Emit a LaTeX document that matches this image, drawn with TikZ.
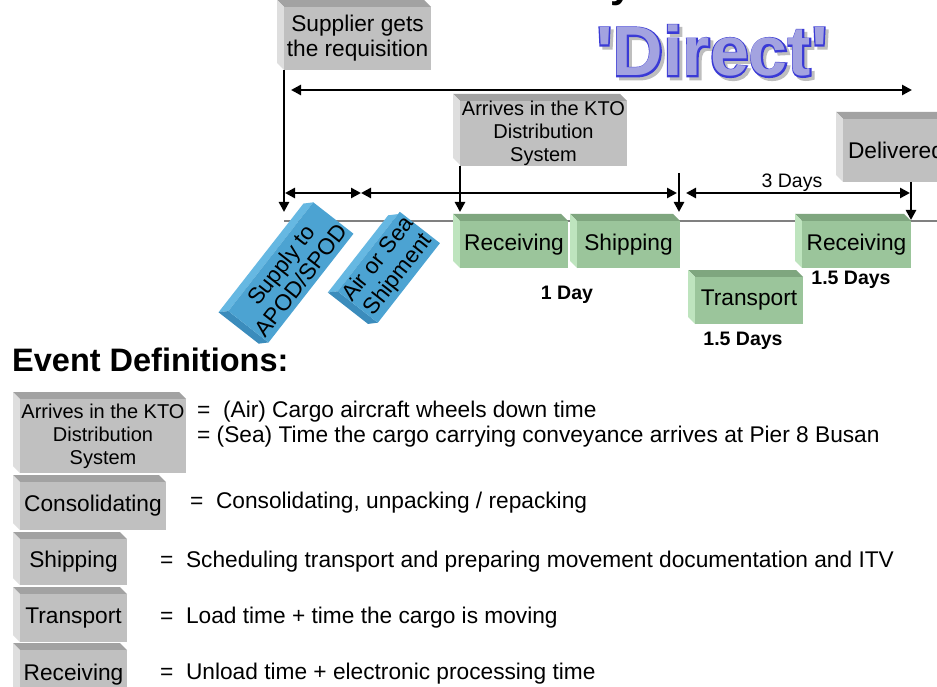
\documentclass[tikz,border=0pt]{standalone}
\usepackage{fontspec}
\setmainfont{Liberation Sans}
\newfontfamily\titlefat{Liberation Sans Bold}[FakeBold=4]
\newfontfamily\titleplain{Liberation Sans Bold}
\usetikzlibrary{arrows.meta}
\definecolor{gfront}{HTML}{C0C0C0}
\definecolor{gtop}{HTML}{A2A2A2}
\definecolor{gleft}{HTML}{DEDEDE}
\definecolor{nfront}{HTML}{9BC59B}
\definecolor{ntop}{HTML}{7FA67F}
\definecolor{nleft}{HTML}{BEE4BE}
\definecolor{bfront}{HTML}{4CA3D2}
\definecolor{btop}{HTML}{66B8E2}
\definecolor{bleft}{HTML}{3B8CBC}
\definecolor{tfill}{HTML}{A3A3E0}
\definecolor{tline}{HTML}{3A3AD6}
\definecolor{tshadow}{HTML}{BEBEBE}
\definecolor{tlgray}{HTML}{808080}
\newcommand\fA{\fontsize{22.7}{25}\selectfont}
\newcommand\fB{\fontsize{20}{23}\selectfont}
\newcommand\fC{\fontsize{19.5}{22}\selectfont}
% #1 name, #2 x1, #3 y1, #4 x2, #5 y2, #6 colour prefix, #7 font, #8 text
\newcommand\bbox[8]{%
  \fill[#6top] (#2,#3) -- ({(#4)-7},#3) -- (#4,{(#3)+7}) -- ({(#2)+7},{(#3)+7}) -- cycle;
  \fill[#6left] (#2,#3) -- ({(#2)+7},{(#3)+7}) -- ({(#2)+7},#5) -- (#2,{(#5)-7}) -- cycle;
  \node[face, fill=#6front, font=#7, minimum width={(#4)-(#2)-7}, minimum height={(#5)-(#3)-7}, anchor=north west] (#1) at ({(#2)+7},{(#3)+7}) {#8};
}
\begin{document}
\begin{tikzpicture}[x=1pt,y=-1pt,
  >={Triangle[length=10pt,width=10pt]},
  face/.style={inner sep=0pt,outer sep=0pt,align=center},
  arr/.style={line width=2.5pt,->},
  darr/.style={line width=2.5pt,<->},
  timeline/.style={draw=tlgray,line width=1.5pt},
  lbl/.style={inner sep=0pt,font=\fC\bfseries},
  deftxt/.style={inner sep=0pt,anchor=base west,font=\fA},
  titletxt/.style={inner sep=0pt,anchor=base},
]
\useasboundingbox (0,0) rectangle (937,687);
\clip (0,0) rectangle (937,687);
\fill[white] (0,0) rectangle (937,687);

% cut-off title glyph
\node[inner sep=0pt,anchor=base west,font=\bfseries\fontsize{40}{40}\selectfont] (ytail) at (610,-2) {y};

% title
\node[titletxt,text=tshadow,font=\titlefat\fontsize{70}{70}\selectfont] (dshadow) at (715,79) {'Direct'};
\node[titletxt,text=tline,font=\titlefat\fontsize{70}{70}\selectfont] (doutline) at (712,76) {'Direct'};
\node[titletxt,text=tfill,font=\titleplain\fontsize{70}{70}\selectfont] (direct) at (712,76) {'Direct'};

% timeline base line
\coordinate (tl0) at (284,221);
\coordinate (tl1) at (937,221);
\draw[timeline] (tl0) -- (tl1);

% event boxes
\bbox{supplier}{277}{0}{431}{70}{g}{\fA}{Supplier gets\\the requisition}
\bbox{arrivesT}{453}{94}{627}{165}{g}{\fB}{Arrives in the KTO\\Distribution\\System}
\bbox{delivered}{836}{112}{949}{182}{g}{\fA}{Delivered}

\bbox{rec1}{453}{214}{568}{268}{n}{\fA}{Receiving}
\bbox{ship}{570}{214}{680}{268}{n}{\fA}{Shipping}
\bbox{trans}{688}{270}{803}{324}{n}{\fA}{Transport}
\bbox{rec2}{795}{214}{911}{268}{n}{\fA}{Receiving}

\begin{scope}[shift={(286,273)},rotate=52,transform shape]
\bbox{supply}{-72.5}{-29}{72.5}{29}{b}{\fA}{Supply to\\APOD/SPOD}
\end{scope}
\begin{scope}[shift={(383,269)},rotate=52,transform shape]
\bbox{airsea}{-52.5}{-29}{52.5}{29}{b}{\fA}{Air or Sea\\Shipment}
\end{scope}

% arrows
\coordinate (L0) at (291,90);
\coordinate (L1) at (912,90);
\draw[darr] (L0) -- (L1);
\coordinate (s1) at (284,212);
\draw[arr] (supplier.south west) -- (s1);
\coordinate (a1) at (460,212);
\draw[arr] (arrivesT.south west) -- (a1);
\coordinate (v3a) at (679,173);
\coordinate (v3b) at (679,212);
\draw[arr] (v3a) -- (v3b);
\coordinate (d1) at (911,220);
\draw[arr] (delivered.south -| d1) -- (d1);
\coordinate (h0) at (285,193);
\coordinate (h1) at (361,193);
\coordinate (h2) at (677,193);
\coordinate (h3) at (686,193);
\coordinate (h4) at (910,193);
\draw[darr] (h0) -- (h1);
\draw[darr] (h1) -- (h2);
\draw[darr] (h3) -- (h4);

% duration labels
\node[inner sep=0pt,font=\fC] (threedays) at (792,183) {3 Days};
\node[lbl] (oneday) at (567,295) {1 Day};
\node[lbl] (recdays) at (851,280) {1.5 Days};
\node[lbl] (transdays) at (743,341) {1.5 Days};

% legend
\node[inner sep=0pt,anchor=base west,font=\bfseries\fontsize{32.5}{32.5}\selectfont] (evdef) at (12,371) {Event Definitions:};
\bbox{lgArr}{13}{392}{186}{473}{g}{\fB}{Arrives in the KTO\\Distribution\\System}
\bbox{lgCons}{13}{475}{166}{530}{g}{\fA}{Consolidating}
\bbox{lgShip}{13}{532}{127}{585}{g}{\fA}{Shipping}
\bbox{lgTrans}{13}{587}{127}{642}{g}{\fA}{Transport}
\bbox{lgRec}{13}{643}{127}{700}{g}{\fA}{Receiving}

\node[deftxt] (def1) at (197,417) {= \ (Air) Cargo aircraft wheels down time};
\node[deftxt] (def2) at (197,442) {= (Sea) Time the cargo carrying conveyance arrives at Pier 8 Busan};
\node[deftxt] (def3) at (190,508) {= \ Consolidating, unpacking / repacking};
\node[deftxt] (def4) at (160,567) {= \ Scheduling transport and preparing movement documentation and ITV};
\node[deftxt] (def5) at (160,623) {= \ Load time + time the cargo is moving};
\node[deftxt] (def6) at (160,679) {= \ Unload time + electronic processing time};
\end{tikzpicture}
\end{document}
